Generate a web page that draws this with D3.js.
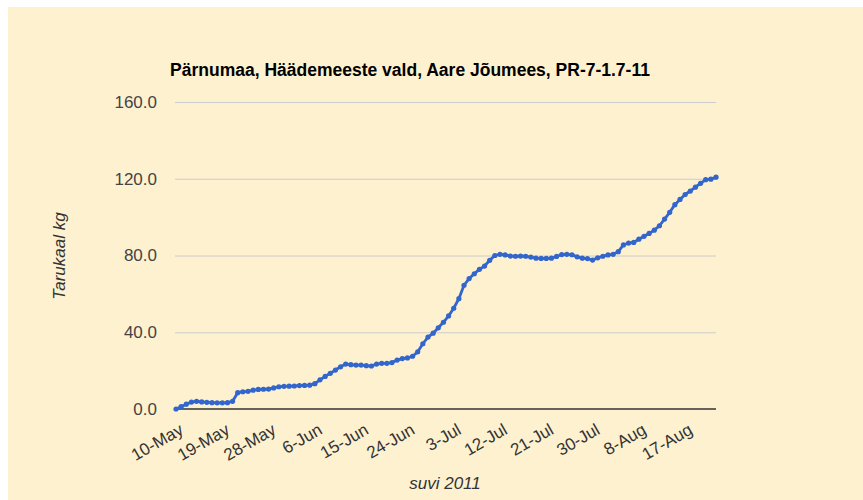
<!DOCTYPE html>
<html>
<head>
<meta charset="utf-8">
<script src="https://cdn.jsdelivr.net/npm/d3@7"></script>
<style>
  body { margin: 0; background: #fff; }
  svg { display: block; font-family: "Liberation Sans", Arial, sans-serif; }
</style>
</head>
<body>
<div id="chart"></div>
<script>
// daily readings, 10-May .. 23-Aug 2011
const startDay = "2011-05-10";
const kg = [
  0, 1.2, 2.5, 3.6, 4.0, 3.7, 3.5, 3.3, 3.2, 3.2, 3.3, 4.0,
  8.5, 9.0, 9.2, 9.8, 10.2, 10.3, 10.4, 11.0, 11.6, 11.8, 11.9, 12.0,
  12.2, 12.3, 12.4, 13.2, 15.2, 17.0, 18.6, 20.3, 22.0, 23.4, 23.1, 22.9,
  22.9, 22.6, 22.4, 23.4, 23.8, 23.8, 24.2, 25.5, 26.3, 26.6, 27.5, 29.8,
  34.0, 37.5, 39.5, 42.3, 45.2, 48.5, 52.5, 57.5, 64.5, 68.0, 70.5, 72.8,
  74.5, 77.5, 80.0, 80.6, 80.3, 79.7, 79.6, 79.7, 79.6, 79.2, 78.6, 78.5,
  78.5, 78.6, 79.5, 80.5, 80.6, 80.4, 79.3, 78.6, 78.4, 77.6, 78.8, 79.6,
  80.3, 80.6, 82.0, 85.5, 86.5, 86.8, 88.5, 90.0, 91.5, 93.2, 95.5, 99.0,
  102.5, 106.5, 109.2, 111.8, 113.6, 115.6, 117.6, 119.5, 119.8, 120.8
];
const xTickLabels = ["10-May", "19-May", "28-May", "6-Jun", "15-Jun", "24-Jun",
  "3-Jul", "12-Jul", "21-Jul", "30-Jul", "8-Aug", "17-Aug"];
const yTicks = [0, 40, 80, 120, 160];

const title = "Pärnumaa, Häädemeeste vald, Aare Jõumees, PR-7-1.7-11";
const yTitle = "Tarukaal kg";
const xTitle = "suvi 2011";

const W = 863, H = 500;
const margin = { top: 102, right: 147, bottom: 91, left: 176 };

const parse = d3.timeParse("%Y-%m-%d");
const day0 = parse(startDay);
const data = kg.map((v, i) => ({ date: d3.timeDay.offset(day0, i), v: v }));
const fmt = d3.timeFormat("%-d-%b");
const tickDates = xTickLabels.map(lbl => data.find(d => fmt(d.date) === lbl).date);

const svg = d3.select("#chart").append("svg")
    .attr("width", W)
    .attr("height", H);

// pale yellow panel
svg.append("rect")
    .attr("x", 8).attr("y", 7)
    .attr("width", W - 8).attr("height", H - 7)
    .attr("fill", "#fef1cf");

const x = d3.scaleTime()
    .domain(d3.extent(data, d => d.date))
    .range([margin.left, W - margin.right]);
const y = d3.scaleLinear()
    .domain([0, 160])
    .range([H - margin.bottom, margin.top]);

// gridlines + y labels
const yAxis = svg.append("g")
    .attr("transform", "translate(" + (margin.left - 1) + ",0)")
    .call(d3.axisLeft(y).tickValues(yTicks).tickFormat(d3.format(".1f"))
        .tickSize(-(W - margin.left - margin.right + 1)).tickPadding(18));
yAxis.select(".domain").remove();
yAxis.selectAll("line").attr("stroke", "#cccccc").attr("stroke-width", 1);
yAxis.selectAll("line").filter(d => d === 0).remove();
yAxis.selectAll("text")
    .attr("fill", "#444")
    .attr("font-size", "17px")
    .attr("font-family", "Liberation Sans, Arial, sans-serif");

// baseline
svg.append("line")
    .attr("x1", margin.left).attr("x2", W - margin.right)
    .attr("y1", y(0)).attr("y2", y(0))
    .attr("stroke", "#333").attr("stroke-width", 1.5);

// x labels, rotated
const xAxis = svg.append("g")
    .attr("transform", "translate(0," + y(0) + ")")
    .call(d3.axisBottom(x).tickValues(tickDates).tickFormat(fmt).tickSize(0));
xAxis.select(".domain").remove();
xAxis.selectAll("text")
    .attr("fill", "#333")
    .attr("font-size", "17px")
    .attr("font-family", "Liberation Sans, Arial, sans-serif")
    .attr("text-anchor", "end")
    .attr("dy", 0)
    .attr("y", 0)
    .attr("transform", "translate(8,24) rotate(-30)");

// series
const line = d3.line()
    .x(d => x(d.date))
    .y(d => y(d.v));
svg.append("path")
    .datum(data)
    .attr("d", line)
    .attr("fill", "none")
    .attr("stroke", "#3366cc")
    .attr("stroke-width", 2.8)
    .attr("stroke-linejoin", "round");
svg.selectAll(".pt")
    .data(data)
    .enter()
    .append("circle")
    .attr("class", "pt")
    .attr("cx", d => x(d.date))
    .attr("cy", d => y(d.v))
    .attr("r", 2.6)
    .attr("fill", "#3366cc");

// titles
svg.append("text")
    .attr("x", 410)
    .attr("y", 76)
    .attr("text-anchor", "middle")
    .attr("font-size", "17.5px")
    .attr("font-weight", "bold")
    .attr("fill", "#000")
    .text(title);

svg.append("text")
    .attr("transform", "translate(65,256) rotate(-90)")
    .attr("text-anchor", "middle")
    .attr("font-size", "17px")
    .attr("font-style", "italic")
    .attr("fill", "#333")
    .text(yTitle);

svg.append("text")
    .attr("x", 445)
    .attr("y", 489)
    .attr("text-anchor", "middle")
    .attr("font-size", "17px")
    .attr("font-style", "italic")
    .attr("fill", "#333")
    .text(xTitle);
</script>
</body>
</html>
